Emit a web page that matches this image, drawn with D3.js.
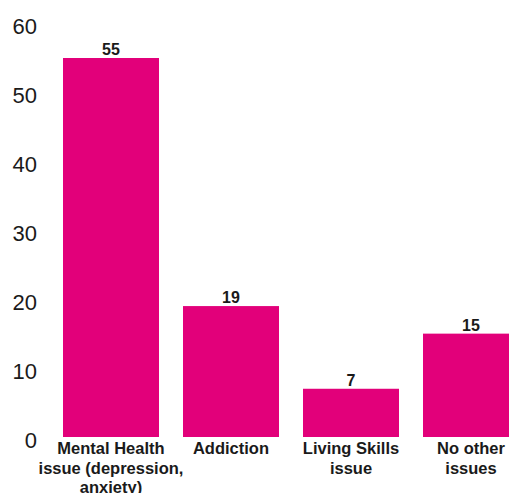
<!DOCTYPE html>
<html>
<head>
<meta charset="utf-8">
<script src="https://cdn.jsdelivr.net/npm/d3@7"></script>
<style>
  body { margin: 0; background: #fff; }
  svg { display: block; }
</style>
</head>
<body>
<script>
const categories = [
  ["Mental Health", "issue (depression,", "anxiety)"],
  ["Addiction"],
  ["Living Skills", "issue"],
  ["No other", "issues"]
];
const values = [55, 19, 7, 15];
const yTicks = [0, 10, 20, 30, 40, 50, 60];

const width = 509;
const height = 493;
const color = "#e2007a";

const svg = d3.select("body")
    .append("svg")
    .attr("width", width)
    .attr("height", height);

const x = d3.scaleBand()
    .domain(d3.range(values.length))
    .range([63, 519])
    .paddingInner(0.2)
    .paddingOuter(0);

const y = d3.scaleLinear()
    .domain([0, 55])
    .range([437, 58]);

// y axis: labels only
const yaxis = d3.axisLeft(y)
    .tickValues(yTicks)
    .tickSize(0)
    .tickPadding(0);
svg.append("g")
    .attr("transform", "translate(37,3)")
    .call(yaxis)
    .call(g => g.select(".domain").remove())
    .call(g => g.selectAll("text")
        .attr("fill", "#1a1a1a")
        .style("font", "22px 'Liberation Sans', Arial, sans-serif"));

svg.append("g")
    .selectAll("rect")
    .data(values)
    .join("rect")
    .attr("x", (d, i) => x(i))
    .attr("y", d => y(d))
    .attr("width", x.bandwidth())
    .attr("height", d => y(0) - y(d))
    .attr("fill", color);

svg.append("g")
    .style("font", "bold 16px 'Liberation Sans', Arial, sans-serif")
    .attr("fill", "#1a1a1a")
    .attr("text-anchor", "middle")
    .selectAll("text")
    .data(values)
    .join("text")
    .attr("x", (d, i) => x(i) + x.bandwidth() / 2)
    .attr("y", d => y(d) - 3)
    .text(d => d);

const labels = svg.append("g")
    .style("font", "bold 16.5px 'Liberation Sans', Arial, sans-serif")
    .attr("fill", "#1a1a1a")
    .attr("text-anchor", "middle")
    .selectAll("text")
    .data(categories)
    .join("text")
    .attr("x", (d, i) => x(i) + x.bandwidth() / 2)
    .attr("y", 454);

labels.selectAll("tspan")
    .data(d => d)
    .join("tspan")
    .attr("x", function() { return this.parentNode.getAttribute("x"); })
    .attr("dy", (d, i) => i === 0 ? 0 : 19.5)
    .text(d => d);
</script>
</body>
</html>
